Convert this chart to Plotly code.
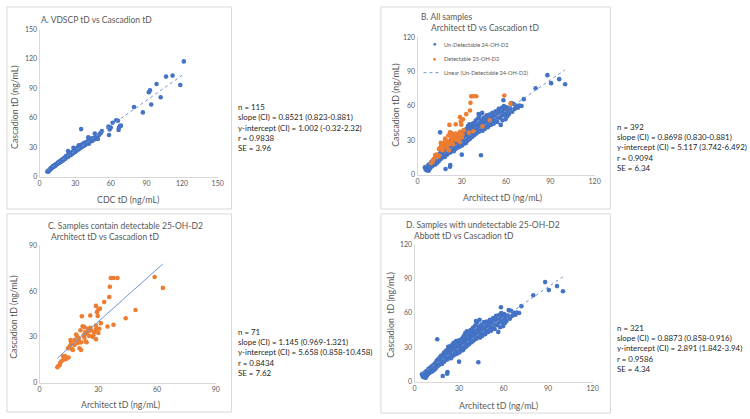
import plotly.graph_objects as go

# ---------------- DATA ----------------
# Panel A: VDSCP (CDC) tD vs Cascadion tD
a_x = [6.5, 7.0, 7.4, 7.8, 8.2, 8.6, 9.0, 9.4, 9.8, 10.2, 10.6, 11.0, 11.5, 11.9, 12.3, 12.8, 13.2, 13.7, 14.1, 14.6,
       15.0, 15.5, 16.0, 16.4, 16.9, 17.3, 17.8, 18.2, 18.7, 19.1, 19.6, 20.0, 20.5, 21.0, 21.4, 21.9, 22.3, 22.8, 23.2, 23.7,
       24.1, 24.6, 25.0, 25.5, 26.0, 26.4, 26.9, 27.3, 27.8, 28.2, 28.7, 29.1, 29.6, 30.0, 30.5, 31.0, 31.4, 31.9, 32.3, 32.8,
       33.2, 33.7, 34.2, 34.8, 35.3, 35.9, 36.5, 37.2, 37.8, 38.5, 39.3, 40.0, 40.8, 41.5, 42.5, 43.5, 44.2, 45.0, 46.0, 47.0,
       48.5, 50.0, 51.5, 52.5, 24.0, 28.5, 33.0, 35.0, 41.0, 44.0, 46.5, 49.0, 43.0, 51.0, 58.0, 58.5, 59.0, 60.0, 61.5, 64.5,
       66.0, 66.5, 67.5, 68.5, 66.8, 79.5, 87.0, 92.0, 93.0, 94.0, 98.5, 102.0, 106.5, 112.0, 118.5, 121.5]
a_y = [5.2, 5.0, 6.0, 5.6, 6.8, 7.2, 7.5, 8.6, 8.2, 9.4, 9.0, 10.2, 10.8, 10.0, 11.4, 11.9, 11.0, 12.6, 12.2, 13.4,
       13.0, 14.2, 14.8, 13.9, 15.2, 15.9, 15.0, 16.6, 16.0, 17.3, 17.9, 16.8, 18.5, 19.2, 18.0, 19.8, 20.9, 19.5, 21.0, 21.8,
       20.3, 22.2, 23.0, 21.6, 23.6, 22.4, 24.5, 23.2, 25.3, 24.0, 26.0, 24.8, 27.0, 25.5, 27.8, 26.3, 29.0, 27.2, 30.0, 28.0,
       31.0, 28.8, 31.5, 29.6, 32.5, 30.5, 33.6, 31.4, 34.5, 32.3, 35.0, 34.0, 36.2, 33.5, 35.8, 38.0, 36.4, 39.0, 38.0, 40.5,
       39.5, 42.5, 44.5, 46.5, 26.0, 29.5, 32.0, 48.5, 40.0, 39.0, 44.0, 38.5, 37.0, 44.0, 51.0, 42.5, 48.0, 50.0, 55.0, 57.5,
       57.0, 47.5, 51.5, 52.0, 49.5, 71.0, 65.5, 86.0, 88.0, 73.5, 94.5, 81.0, 102.0, 103.0, 93.5, 117.5]

# Samples with undetectable 25-OH-D2 (blue): Architect tD vs Cascadion tD
u_x = [5.0, 5.5, 5.8, 6.0, 6.2, 6.5, 6.8, 7.0, 7.2, 7.5, 7.6, 7.8, 8.0, 8.3, 8.5, 8.8, 9.0, 9.3, 9.6, 9.8,
       10.0, 10.2, 10.5, 10.8, 11.0, 11.2, 11.5, 11.8, 12.0, 12.2, 12.5, 12.8, 13.0, 13.3, 13.5, 13.8, 14.0, 14.3, 14.6, 14.8,
       15.0, 15.2, 15.3, 15.5, 15.8, 16.0, 16.3, 16.5, 16.8, 17.0, 17.2, 17.5, 17.8, 18.0, 18.3, 18.5, 18.8, 19.0, 19.2, 19.5, 19.7, 20.0,
       20.2, 20.4, 20.6, 20.8, 21.0, 21.2, 21.5, 21.7, 22.0, 22.2, 22.3, 22.5, 22.7, 22.9, 23.1, 23.3, 23.5, 23.7, 24.0, 24.2, 24.4, 24.6, 24.8, 25.0, 25.0,
       25.3, 25.5, 25.7, 26.0, 26.2, 26.4, 26.6, 26.8, 27.0, 27.2, 27.4, 27.6, 27.8, 28.0, 28.2, 28.4, 28.6, 28.8, 29.0, 29.2, 29.4, 29.6, 29.8, 30.0, 30.0, 30.2, 30.4, 30.6,
       30.8, 31.0, 31.2, 31.4, 31.6, 31.8, 32.0, 32.2, 32.4, 32.6, 32.8, 33.0, 33.2, 33.4, 33.6, 33.8, 34.0, 34.2, 34.4, 34.6, 34.8, 35.0, 35.2, 35.4, 35.6, 35.8,
       36.0, 36.3, 36.6, 36.9, 37.2, 37.5, 37.8, 38.1, 38.4, 38.7, 39.0, 39.3, 39.6, 39.9, 40.2, 40.5, 40.8, 41.1, 41.4, 41.7, 42.0, 42.3, 42.6, 43.0,
       43.2, 43.5, 43.8, 44.1, 44.4, 44.7, 45.0, 45.3, 45.6, 46.0, 46.4, 46.8, 47.2, 47.6, 48.0, 48.4, 48.8, 49.2, 49.6, 50.0, 50.4, 50.8, 51.2, 51.6,
       52.0, 52.5, 53.0, 53.5, 54.0, 54.5, 55.0, 55.5, 56.0, 56.4, 56.8, 57.2, 57.6, 58.0, 58.2, 58.5, 58.8, 59.2, 59.6, 60.0, 60.4, 60.8,
       61.5, 62.0, 62.8, 63.5, 64.2, 65.0, 65.8, 66.5, 68.0, 69.0, 70.5, 72.0,
       80.0, 88.0, 90.5, 96.0, 100.0]
u_y = [6.5, 4.5, 7.0, 5.5, 3.8, 6.0, 4.2, 8.0, 5.0, 3.5, 6.8, 9.0, 4.5, 7.5, 5.8, 9.5, 6.8, 11.0, 8.0, 10.0,
       7.5, 12.0, 9.5, 11.0, 8.5, 13.0, 10.5, 12.5, 9.0, 14.0, 11.5, 13.5, 10.0, 15.0, 12.0, 16.0, 13.5, 11.5, 17.0, 14.5,
       18.5, 15.5, 37.0, 13.5, 19.0, 16.5, 20.0, 14.5, 18.0, 21.0, 16.0, 19.5, 22.5, 17.0, 20.5, 15.5, 23.0, 5.0, 18.5, 21.5, 25.0, 17.5,
       20.0, 22.5, 26.0, 19.0, 24.0, 21.0, 27.5, 23.0, 7.0, 8.5, 19.5, 25.0, 30.5, 22.0, 28.0, 24.5, 21.0, 26.5, 31.0, 23.5, 28.5, 20.5, 26.0, 30.0, 24.0,
       27.5, 32.5, 22.5, 29.0, 25.5, 34.0, 27.0, 31.0, 23.5, 28.5, 33.0, 26.0, 30.0, 35.5, 27.5, 31.5, 24.5, 29.0, 33.5, 26.5, 30.5, 36.0, 28.0, 17.5, 32.0, 25.5, 34.5, 29.5,
       31.0, 27.0, 36.5, 33.0, 29.0, 34.5, 30.5, 38.0, 32.0, 27.5, 35.5, 31.5, 40.0, 34.0, 29.5, 37.0, 32.5, 42.5, 35.5, 30.5, 38.5, 33.5, 44.0, 36.5, 31.5, 40.0,
       35.0, 43.5, 38.0, 33.0, 41.0, 36.5, 45.0, 39.0, 34.5, 42.5, 37.5, 47.0, 40.5, 36.0, 44.0, 39.0, 49.0, 42.0, 53.0, 37.5, 51.5, 45.5, 40.5, 17.0,
       48.0, 43.0, 54.0, 38.5, 46.0, 41.5, 50.0, 44.5, 40.0, 47.5, 43.0, 52.0, 45.5, 41.5, 49.0, 44.0, 52.5, 47.0, 43.5, 50.5, 46.0, 54.0, 48.5, 44.5,
       52.0, 47.5, 55.5, 50.0, 46.0, 53.5, 57.5, 49.5, 54.5, 43.5, 51.5, 58.5, 47.5, 55.0, 65.0, 60.0, 52.0, 57.0, 48.5, 54.5, 59.0, 51.0,
       56.5, 53.0, 58.0, 62.5, 55.0, 62.0, 57.5, 60.5, 58.5, 60.5, 60.0, 66.0,
       75.5, 87.0, 80.0, 83.5, 79.0]

# Samples containing detectable 25-OH-D2 (orange)
d_x = [9.1, 9.4, 10.3, 10.5, 11.1, 12.0, 12.3, 12.8, 13.5, 14.8, 15.3, 14.5, 15.8, 16.2, 16.5, 17.0, 17.9, 17.9, 18.7, 19.0,
       19.9, 20.4, 21.2, 20.9, 21.2, 21.6, 22.9, 22.9, 23.3, 23.8, 24.6, 25.4, 25.9, 26.3, 27.1, 28.0, 28.8, 28.8, 29.0, 28.8,
       29.3, 30.0, 29.7, 30.5, 31.3, 30.0, 27.5, 24.0, 22.5, 33.0, 34.7, 35.6, 35.9, 36.4, 37.8, 39.8, 37.8, 44.0, 49.0, 58.8,
       63.0, 26.0, 23.5, 19.5, 16.0, 13.0, 30.8, 28.5, 22.0, 25.0, 20.0]
d_y = [10.1, 10.7, 11.5, 12.9, 14.0, 17.2, 15.0, 16.1, 15.5, 16.5, 23.6, 22.5, 27.9, 26.4, 22.0, 21.4, 24.7, 27.9, 31.5, 30.5,
       29.4, 22.5, 21.4, 34.3, 26.4, 43.5, 29.4, 36.4, 33.0, 32.1, 35.3, 30.6, 44.0, 34.2, 30.0, 33.2, 28.5, 37.5, 35.3, 50.3,
       46.2, 47.8, 43.7, 35.3, 39.0, 32.5, 31.0, 26.5, 31.0, 52.9, 36.8, 56.1, 62.8, 68.6, 68.6, 68.6, 37.9, 42.2, 47.6, 69.2,
       62.1, 36.0, 27.0, 26.0, 25.0, 17.5, 48.5, 34.0, 37.0, 33.5, 28.0]

# Regression statistics [slope, intercept]
fit_a = [0.8521, 1.002]
fit_c = [1.145, 5.658]
fit_d = [0.8873, 2.891]

stats_a = ["n = 115", "slope (CI) = 0.8521 (0.823-0.881)", "y-intercept (CI) = 1.002 (-0.32-2.32)", "r = 0.9838", "SE = 3.96"]
stats_b = ["n = 392", "slope (CI) = 0.8698 (0.830-0.881)", "y-intercept (CI) = 5.117 (3.742-6.492)", "r = 0.9094", "SE = 6.34"]
stats_c = ["n = 71", "slope (CI) = 1.145 (0.969-1.321)", "y-intercept (CI) = 5.658 (0.858-10.458)", "r = 0.8434", "SE = 7.62"]
stats_d = ["n = 321", "slope (CI) = 0.8873 (0.858-0.916)", "y-intercept (CI) = 2.891 (1.842-3.94)", "r = 0.9586", "SE = 4.34"]

legend_labels = ["Un-Detectable 24-OH-D2", "Detectable 25-OH-D2", "Linear (Un-Detectable 24-OH-D2)"]

ticks_150 = [0, 30, 60, 90, 120, 150]
ticks_120 = [0, 30, 60, 90, 120]
ticks_90 = [0, 30, 60, 90]

# ---------------- STYLE ----------------
W, H = 750, 419
BLUE = "#4472C4"
ORANGE = "#ED7D31"
TREND = "#6F95D6"
GRAY = "#595959"
FONT = "Lato"


def px(x):
    return x / W


def py(y):
    return 1 - y / H


def fitline(xs, fit):
    lo, hi = min(xs), max(xs)
    return [lo, hi], [fit[0] * lo + fit[1], fit[0] * hi + fit[1]]


fig = go.Figure()
MS = 4.6

# Panel A
fig.add_trace(go.Scatter(x=a_x, y=a_y, mode="markers", marker=dict(color=BLUE, size=MS),
                         xaxis="x", yaxis="y", showlegend=False))
lx, ly = fitline(a_x, fit_a)
fig.add_trace(go.Scatter(x=lx, y=ly, mode="lines", line=dict(color=TREND, width=1, dash="dot"),
                         xaxis="x", yaxis="y", showlegend=False))

# Panel B
fig.add_trace(go.Scatter(x=u_x, y=u_y, mode="markers", marker=dict(color=BLUE, size=MS),
                         xaxis="x2", yaxis="y2", name=legend_labels[0], showlegend=False))
fig.add_trace(go.Scatter(x=d_x, y=d_y, mode="markers", marker=dict(color=ORANGE, size=MS),
                         xaxis="x2", yaxis="y2", name=legend_labels[1], showlegend=False))
lx, ly = fitline(u_x, fit_d)
fig.add_trace(go.Scatter(x=lx, y=ly, mode="lines", line=dict(color=TREND, width=1, dash="dot"),
                         xaxis="x2", yaxis="y2", name=legend_labels[2], showlegend=False))

# Panel C
fig.add_trace(go.Scatter(x=d_x, y=d_y, mode="markers", marker=dict(color=ORANGE, size=MS),
                         xaxis="x3", yaxis="y3", showlegend=False))
lx, ly = fitline(d_x, fit_c)
fig.add_trace(go.Scatter(x=lx, y=ly, mode="lines", line=dict(color=TREND, width=1),
                         xaxis="x3", yaxis="y3", showlegend=False))

# Panel D
fig.add_trace(go.Scatter(x=u_x, y=u_y, mode="markers", marker=dict(color=BLUE, size=MS),
                         xaxis="x4", yaxis="y4", showlegend=False))
lx, ly = fitline(u_x, fit_d)
fig.add_trace(go.Scatter(x=lx, y=ly, mode="lines", line=dict(color=TREND, width=1, dash="dot"),
                         xaxis="x4", yaxis="y4", showlegend=False))


def ax(domain, rng, ticks, anchor):
    return dict(domain=domain, range=rng, tickvals=ticks, anchor=anchor,
                showline=True, linecolor="#D9D9D9", linewidth=1,
                showgrid=False, zeroline=False, ticks="",
                tickfont=dict(size=7, color=GRAY, family=FONT), fixedrange=True)


layout = dict(
    width=W, height=H, margin=dict(l=0, r=0, t=0, b=0),
    paper_bgcolor="white", plot_bgcolor="white",
    font=dict(family=FONT, color=GRAY),
    xaxis=ax([px(38), px(218)], [0, 150], ticks_150, "y"),
    yaxis=ax([py(175), py(25)], [0, 150], ticks_150, "x"),
    xaxis2=ax([px(420), px(599)], [0, 120], ticks_120, "y2"),
    yaxis2=ax([py(173), py(33)], [0, 120], ticks_120, "x2"),
    xaxis3=ax([px(38), px(216)], [0, 90], ticks_90, "y3"),
    yaxis3=ax([py(385), py(245)], [0, 90], ticks_90, "x3"),
    xaxis4=ax([px(417), px(597)], [0, 120], ticks_120, "y4"),
    yaxis4=ax([py(384), py(244)], [0, 120], ticks_120, "x4"),
    showlegend=False,
)
fig.update_layout(**layout)

# Panel frames + legend line sample
shapes = []
for (x0, y0, x1, y1) in [(5, 2, 232, 208), (383, 2, 615, 208), (5, 213, 232, 415), (383, 213, 615, 416)]:
    shapes.append(dict(type="rect", xref="paper", yref="paper", x0=px(x0), x1=px(x1), y0=py(y1), y1=py(y0),
                       line=dict(color="#D9D9D9", width=1), layer="below"))
shapes.append(dict(type="line", xref="paper", yref="paper", x0=px(426), x1=px(443), y0=py(69), y1=py(69),
                   line=dict(color=TREND, width=1, dash="dot")))
fig.update_layout(shapes=shapes)

ann = []


def text(x, y, s, size, color=GRAY, anchor="left", angle=0):
    ann.append(dict(x=px(x), y=py(y), xref="paper", yref="paper", text=s, showarrow=False,
                    xanchor=anchor, yanchor="middle", textangle=angle, borderpad=0,
                    font=dict(size=size, color=color, family=FONT)))


# Titles
text(38, 15, "A. VDSCP tD vs Cascadion tD", 8.5)
text(423, 12, "B. All samples", 8.5)
text(433, 23, "Architect tD vs Cascadion tD", 8.5)
text(45, 225, "C. Samples contain detectable 25-OH-D2", 8.5)
text(49, 237, "Architect tD vs Cascadion tD", 8.5)
text(407, 224, "D. Samples with undetectable 25-OH-D2", 8.5)
text(415, 235, "Abbott tD vs Cascadion tD", 8.5)

# Axis titles
AT = 8.8
text(127, 198, "CDC tD (ng/mL)", AT, anchor="center")
text(12, 104, "Cascadion tD (ng/mL)", AT, anchor="center", angle=-90)
text(506, 196, "Architect tD (ng/mL)", AT, anchor="center")
text(397, 102, "Cascadion tD (ng/mL)", AT, anchor="center", angle=-90)
text(120, 407, "Architect tD (ng/mL)", AT, anchor="center")
text(12, 318, "Cascadion tD (ng/mL)", AT, anchor="center", angle=-90)
text(502, 408, "Architect tD (ng/mL)", AT, anchor="center")
text(393, 316, "Cascadion  tD (ng/mL)", AT, anchor="center", angle=-90)

# Legend (panel B)
text(437, 40, "●", 5.5, color=BLUE, anchor="center")
text(437, 55, "●", 5.5, color=ORANGE, anchor="center")
for i, lab in enumerate(legend_labels):
    text(446, 40 + i * 14.5, lab, 5.6)

# Statistics
for (x0, y0, lines) in [(238, 104, stats_a), (621, 124, stats_b), (238, 333, stats_c), (621, 329, stats_d)]:
    for i, s in enumerate(lines):
        text(x0, y0 + i * 10.5, s, 7.9, color="#262626")

fig.update_layout(annotations=ann)
fig.write_html("out.html", config={"displayModeBar": False},
               post_script="document.body.style.margin='0';document.body.style.overflow='hidden';"
                           "document.documentElement.style.overflow='hidden';")
